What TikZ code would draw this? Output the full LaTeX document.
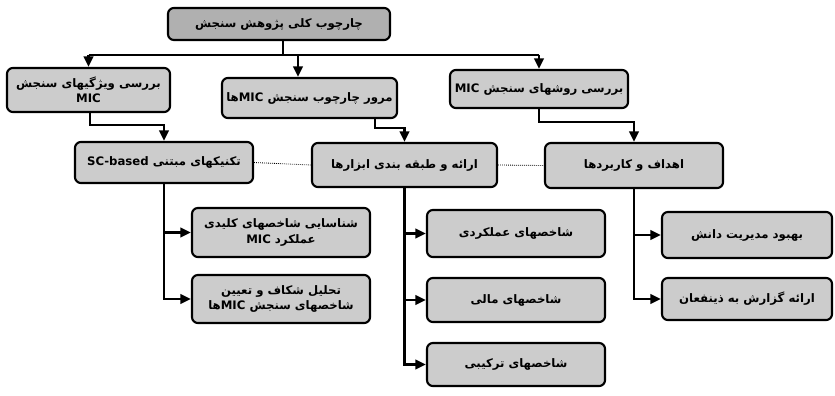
\documentclass[tikz,border=0pt]{standalone}
\usepackage{fontspec}
\usetikzlibrary{arrows.meta}
\TeXXeTstate=1
\newfontfamily\fa[Script=Arabic]{DejaVu Sans}
\tikzset{
 bx/.style 2 args={draw=black, line width=1.8pt, rounded corners=5pt, fill=gray!40,
   minimum width=#1*0.03cm, minimum height=#2*0.03cm, inner sep=1pt, align=center,
   font=\fa\bfseries\fontsize{10}{13}\selectfont},
 topbx/.style={fill=gray!62},
 conn/.style={line width=2.4pt, -{Triangle[length=9pt,width=8pt]}},
 plainln/.style={line width=2.4pt},
 dots/.style={densely dotted, line width=0.7pt}
}
\begin{document}
\begin{tikzpicture}[x=0.03cm,y=-0.03cm]
\useasboundingbox (0,0) rectangle (835,396);
% top
\node[bx={222}{32},topbx] (top) at (279,24) {\beginR چارچوب کلی پژوهش سنجش\endR};
% level 1
\node[bx={163}{44}] (L1a) at (88.5,90) {\beginR بررسی ویژگیهای سنجش\endR\\ \beginL MIC\endL};
\node[bx={175}{40}] (L1b) at (309.5,98) {\beginR مرور چارچوب سنجش \beginL MIC\endL ها\endR};
\node[bx={178}{38}] (L1c) at (539,89) {\beginR بررسی روشهای سنجش \beginL MIC\endL\endR};
% level 2
\node[bx={178}{41}] (L2a) at (164,162.5) {\beginR تکنیکهای مبتنی \beginL SC-based\endL\endR};
\node[bx={185}{44}] (L2b) at (404.5,165) {\beginR ارائه و طبقه بندی ابزارها\endR};
\node[bx={178}{45}] (L2c) at (634,165.5) {\beginR اهداف و کاربردها\endR};
% level 3 left
\node[bx={178}{49}] (L3a1) at (281,232.5) {\beginR شناسایی شاخصهای کلیدی\endR\\ \beginR عملکرد \beginL MIC\endL\endR};
\node[bx={178}{48}] (L3a2) at (281,299) {\beginR تحلیل شکاف و تعیین\endR\\ \beginR شاخصهای سنجش \beginL MIC\endL ها\endR};
% level 3 middle
\node[bx={178}{47}] (L3b1) at (516,233.5) {\beginR شاخصهای عملکردی\endR};
\node[bx={178}{44}] (L3b2) at (516,300) {\beginR شاخصهای مالی\endR};
\node[bx={178}{43}] (L3b3) at (516,364.5) {\beginR شاخصهای ترکیبی\endR};
% level 3 right
\node[bx={170}{46}] (L3c1) at (747,235) {\beginR بهبود مدیریت دانش\endR};
\node[bx={170}{42}] (L3c2) at (747,299) {\beginR ارائه گزارش به ذینفعان\endR};
% top connectors
\coordinate (hub) at (283,55);
\coordinate (hubL) at (88.5,55);
\coordinate (hubM) at (298,55);
\coordinate (hubR) at (539,55);
\draw[plainln] (top.south -| hub) -- (hub);
\draw[plainln] (hubL) -- (hubR);
\draw[conn] (hubL) -- (L1a.north);
\draw[conn] (hubM) -- (L1b.north -| hubM);
\draw[conn] (hubR) -- (L1c.north);
% level1 -> level2
\coordinate (ja) at (90,125);
\coordinate (jb) at (375,128);
\coordinate (jc) at (539,122);
\draw[conn] (L1a.south -| ja) -- (ja) -| (L2a.north);
\draw[conn] (L1b.south -| jb) -- (jb) -| (L2b.north);
\draw[conn] (L1c.south) -- (jc) -| (L2c.north);
% dotted links
\draw[dots] (L2a.east) -- (L2b.west);
\draw[dots] (L2b.east) -- (L2c.west);
% level2 -> level3
\draw[conn] (L2a.south) |- (L3a1.west);
\draw[conn] (L2a.south) |- (L3a2.west);
\draw[conn] (L2b.south) |- (L3b1.west);
\draw[conn] (L2b.south) |- (L3b2.west);
\draw[conn] (L2b.south) |- (L3b3.west);
\draw[conn] (L2c.south) |- (L3c1.west);
\draw[conn] (L2c.south) |- (L3c2.west);
\end{tikzpicture}
\end{document}
